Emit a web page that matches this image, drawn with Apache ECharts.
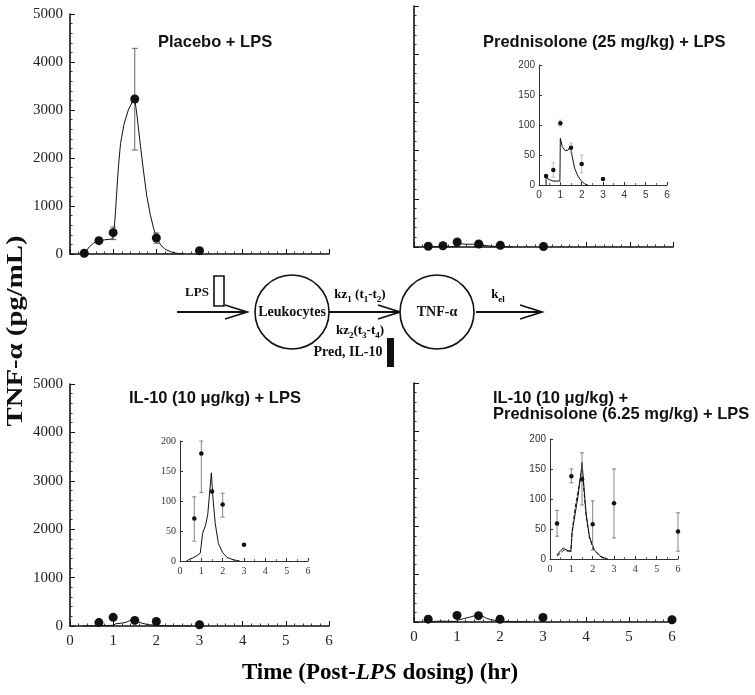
<!DOCTYPE html>
<html>
<head>
<meta charset="utf-8">
<script src="https://cdn.jsdelivr.net/npm/echarts@6/dist/echarts.min.js"></script>
<style>
html, body { margin: 0; padding: 0; background: #fff; }
#chart { width: 755px; height: 695px; }
</style>
</head>
<body>
<div id="chart"></div>
<script>
// ---- data: TNF-alpha (pg/mL) vs time after LPS (hr) ----
// placebo + LPS
const placeboT = [0.33, 0.67, 1, 1.5, 2, 3];
const placeboTNF = [15, 278, 444, 3229, 333, 70];
const placeboErr = [null, [250, 305], [300, 560], [2167, 4285], [222, 440], null];
const placeboFit = [[0.33, 10], [0.45, 150], [0.55, 230], [0.67, 275], [0.8, 295], [0.95, 310], [1.0, 330],
  [1.04, 700], [1.08, 1250], [1.12, 1800], [1.17, 2300], [1.25, 2700], [1.35, 3000], [1.45, 3180], [1.5, 3229],
  [1.55, 2900], [1.62, 2350], [1.7, 1750], [1.78, 1200], [1.86, 820], [1.93, 560], [2.0, 340], [2.1, 190],
  [2.2, 100], [2.35, 40], [2.5, 10], [2.63, 0]];

// prednisolone 25 mg/kg + LPS
const predT = [0.33, 0.67, 1, 1.5, 2, 3];
const predTNF = [15, 25, 103, 62, 35, 10];
const predErr = [null, [13, 37], [98, 108], [54, 70], [20, 50], null];
const predFit = [[0.33, 0], [0.33, 16], [0.42, 10], [0.55, 8], [0.65, 6.7], [0.8, 6.5], [0.98, 6.7], [1.0, 78],
  [1.09, 64], [1.23, 57], [1.36, 58], [1.45, 63], [1.5, 58], [1.56, 47], [1.67, 28], [1.82, 15], [1.98, 7],
  [2.14, 2], [2.29, 0]];

// IL-10 10 ug/kg + LPS
const il10T = [0.67, 1, 1.5, 2, 3];
const il10TNF = [71, 179, 116, 94, 27];
const il10Err = [[33, 107], [114, 200], null, [73, 113], null];
const il10Fit = [[0.3, 0], [0.45, 3], [0.6, 5], [0.8, 9], [0.95, 13], [1.0, 15], [1.06, 46], [1.2, 60],
  [1.3, 77], [1.38, 110], [1.47, 147], [1.54, 107], [1.65, 63], [1.8, 29], [2.0, 14], [2.2, 6], [2.5, 2], [2.8, 0]];

// IL-10 + prednisolone 6.25 mg/kg + LPS
const comboT = [0.33, 1, 1.5, 2, 3, 6];
const comboTNF = [59, 138, 133, 58, 93, 46];
const comboErr = [[38, 81], [127, 150], [90, 177], [15, 97], [35, 150], [13, 77]];
const comboFit = [[0.33, 7], [0.5, 14], [0.62, 18], [0.78, 15], [0.98, 12], [1.03, 43], [1.16, 71], [1.31, 104],
  [1.47, 149], [1.5, 161], [1.58, 126], [1.69, 76], [1.85, 37], [2.08, 15], [2.39, 4], [2.7, 0]];
const comboFit2 = [[0.33, 5], [0.5, 10], [0.65, 15], [0.8, 13], [0.98, 14], [1.05, 50], [1.2, 90], [1.35, 120],
  [1.5, 152], [1.6, 110], [1.7, 70], [1.85, 35], [2.05, 15], [2.4, 3], [2.7, 0]];

const hourTicks = [0, 6, 1];      // min, max, interval
const mainTNF = [0, 5000, 1000];
const insetTNF = [0, 200, 50];

const SERIF = '"Liberation Serif", "Times New Roman", serif';
const SANS = '"Liberation Sans", Arial, sans-serif';
const plain = v => String(v);

const pts = (t, v) => t.map((x, i) => [x, v[i]]);
const errs = (t, e) => t.map((x, i) => e[i] ? [x, e[i][0], e[i][1]] : null).filter(Boolean);

const grids = [
  { left: 70, top: 14, width: 259, height: 240 },
  { left: 414, top: 6, width: 259, height: 241 },
  { left: 70, top: 384, width: 259, height: 242 },
  { left: 414, top: 383, width: 258, height: 239 },
  // insets
  { left: 539, top: 65, width: 128, height: 120 },
  { left: 180, top: 441, width: 128, height: 120 },
  { left: 550, top: 439, width: 128, height: 120 }
];

function mainX(i, showLabel) {
  return {
    type: 'value', gridIndex: i, min: hourTicks[0], max: hourTicks[1], interval: hourTicks[2],
    axisLine: { lineStyle: { color: '#111', width: 1.6 } },
    axisTick: { inside: true, length: 5, lineStyle: { color: '#111' } },
    minorTick: { show: true, splitNumber: 5, length: 2.5, lineStyle: { color: '#333' } },
    splitLine: { show: false },
    axisLabel: { show: showLabel, fontFamily: SERIF, fontSize: 15, color: '#222', margin: 8, formatter: plain }
  };
}
function mainY(i, showLabel) {
  return {
    type: 'value', gridIndex: i, min: mainTNF[0], max: mainTNF[1], interval: mainTNF[2],
    axisLine: { show: true, lineStyle: { color: '#111', width: 1.6 } },
    axisTick: { show: true, inside: true, length: 5, lineStyle: { color: '#111' } },
    minorTick: { show: true, splitNumber: 5, length: 2.5, lineStyle: { color: '#333' } },
    splitLine: { show: false },
    axisLabel: { show: showLabel, fontFamily: SERIF, fontSize: 15, color: '#222', margin: 7, formatter: plain }
  };
}
function insetX(i, font) {
  return {
    type: 'value', gridIndex: i, min: hourTicks[0], max: hourTicks[1], interval: hourTicks[2],
    axisLine: { lineStyle: { color: '#333', width: 1 } },
    axisTick: { inside: true, length: 3, lineStyle: { color: '#333' } },
    minorTick: { show: true, splitNumber: 2, length: 2, lineStyle: { color: '#666' } },
    splitLine: { show: false },
    axisLabel: { fontFamily: font, fontSize: 10, color: '#333', margin: 5, formatter: plain }
  };
}
function insetY(i, font) {
  return {
    type: 'value', gridIndex: i, min: insetTNF[0], max: insetTNF[1], interval: insetTNF[2],
    axisLine: { show: true, lineStyle: { color: '#333', width: 1 } },
    axisTick: { show: true, inside: true, length: 3, lineStyle: { color: '#333' } },
    splitLine: { show: false },
    axisLabel: { fontFamily: font, fontSize: 10, color: '#333', margin: 4, formatter: plain }
  };
}

function errBars(idx, data, color, cap) {
  return {
    type: 'custom', xAxisIndex: idx, yAxisIndex: idx, data: data, z: 3, silent: true,
    encode: { x: 0, y: [1, 2] },
    renderItem: function (params, api) {
      const x = api.value(0);
      const top = api.coord([x, api.value(2)]);
      const bot = api.coord([x, api.value(1)]);
      const st = { stroke: color, lineWidth: 0.9 };
      return {
        type: 'group', children: [
          { type: 'line', shape: { x1: top[0], y1: top[1], x2: bot[0], y2: bot[1] }, style: st },
          { type: 'line', shape: { x1: top[0] - cap, y1: top[1], x2: top[0] + cap, y2: top[1] }, style: st },
          { type: 'line', shape: { x1: bot[0] - cap, y1: bot[1], x2: bot[0] + cap, y2: bot[1] }, style: st }
        ]
      };
    }
  };
}
function dots(idx, data, size) {
  return { type: 'scatter', xAxisIndex: idx, yAxisIndex: idx, data: data, symbolSize: size, z: 4,
    itemStyle: { color: '#111', opacity: 1 }, silent: true };
}
function fit(idx, data, dashed) {
  return { type: 'line', xAxisIndex: idx, yAxisIndex: idx, data: data, showSymbol: false, z: 2, silent: true,
    lineStyle: { color: '#111', width: 1, type: dashed ? [4, 2] : 'solid' } };
}

const series = [
  fit(0, placeboFit), errBars(0, errs(placeboT, placeboErr), '#555', 3), dots(0, pts(placeboT, placeboTNF), 9),
  fit(1, predFit), dots(1, pts(predT, predTNF), 9),
  fit(2, il10Fit), dots(2, pts(il10T, il10TNF), 9),
  fit(3, comboFit), dots(3, pts(comboT, comboTNF), 9),
  fit(4, predFit), errBars(4, errs(predT, predErr), '#bbb', 2), dots(4, pts(predT, predTNF), 4.5),
  fit(5, il10Fit), errBars(5, errs(il10T, il10Err), '#777', 2), dots(5, pts(il10T, il10TNF), 4.5),
  fit(6, comboFit), fit(6, comboFit2, true), errBars(6, errs(comboT, comboErr), '#777', 2),
  dots(6, pts(comboT, comboTNF), 4.5)
];

const titleStyle = { fontFamily: SANS, fontWeight: 'bold', fontSize: 16.5, color: '#111', lineHeight: 16 };
const title = [
  { text: 'Placebo + LPS', left: 158, top: 34 },
  { text: 'Prednisolone (25 mg/kg) + LPS', left: 483, top: 34 },
  { text: 'IL-10 (10 μg/kg) + LPS', left: 129, top: 390 },
  { text: 'IL-10 (10 μg/kg) +\nPrednisolone (6.25 mg/kg) + LPS', left: 493, top: 390 }
].map(t => Object.assign(t, { padding: 0, textStyle: titleStyle }));

// ---- model diagram between the panels ----
const dgm = { stroke: '#111', lineWidth: 1.8, fill: null };
const bold = (size) => ({ fontFamily: SERIF, fontWeight: 'bold', fontSize: size, fill: '#111' });
const richSub = {
  n: { fontFamily: SERIF, fontWeight: 'bold', fontSize: 13, lineHeight: 18, color: '#111' },
  s: { fontFamily: SERIF, fontWeight: 'bold', fontSize: 9, lineHeight: 10, verticalAlign: 'bottom', color: '#111' }
};
function txt(x, y, text, extra) {
  return { type: 'text', x: x, y: y, style: Object.assign({ text: text, align: 'center', verticalAlign: 'middle',
    textAlign: 'center', textVerticalAlign: 'middle' }, extra) };
}
function arrow(x1, x2, y) {
  return [
    { type: 'line', shape: { x1: x1, y1: y, x2: x2, y2: y }, style: dgm },
    { type: 'polyline', shape: { points: [[x2 - 22, y - 7], [x2, y], [x2 - 22, y + 7]] }, style: dgm }
  ];
}
const graphic = [].concat(
  arrow(177, 247, 312), arrow(329, 400, 312), arrow(476, 542, 312),
  [
    { type: 'circle', shape: { cx: 292, cy: 312, r: 37 }, style: { stroke: '#111', lineWidth: 1.6, fill: '#fff' } },
    { type: 'circle', shape: { cx: 437, cy: 312, r: 37 }, style: { stroke: '#111', lineWidth: 1.6, fill: '#fff' } },
    { type: 'rect', shape: { x: 214, y: 276, width: 10, height: 30 }, style: { stroke: '#111', lineWidth: 1.6, fill: '#fff' } },
    { type: 'rect', shape: { x: 387, y: 338, width: 7, height: 29 }, style: { fill: '#111' } },
    txt(197, 293, 'LPS', bold(13)),
    txt(292, 312, 'Leukocytes', bold(14)),
    txt(437, 312, 'TNF-α', bold(14)),
    txt(360, 295, '{n|kz}{s|1}{n| (t}{s|1}{n|-t}{s|2}{n|)}', { rich: richSub }),
    txt(360, 331, '{n|kz}{s|2}{n|(t}{s|3}{n|-t}{s|4}{n|)}', { rich: richSub }),
    txt(348, 352, 'Pred, IL-10', bold(14)),
    txt(498, 295, '{n|k}{s|el}', { rich: richSub }),
    // axis titles
    { type: 'text', x: 16, y: 331, rotation: Math.PI / 2, scaleX: 1.25,
      style: Object.assign({ text: 'TNF-α (pg/mL)', align: 'center', verticalAlign: 'middle',
        textAlign: 'center', textVerticalAlign: 'middle' }, bold(23)) },
    txt(380, 673, '{b|Time (Post-}{i|LPS}{b| dosing) (hr)}', { rich: {
      b: { fontFamily: SERIF, fontWeight: 'bold', fontSize: 23, color: '#111' },
      i: { fontFamily: SERIF, fontWeight: 'bold', fontStyle: 'italic', fontSize: 23, color: '#111' }
    } })
  ]
);

const chart = echarts.init(document.getElementById('chart'));
chart.setOption({
  backgroundColor: '#fff',
  animation: false,
  title: title,
  grid: grids,
  xAxis: [mainX(0, false), mainX(1, false), mainX(2, true), mainX(3, true),
    insetX(4, SANS), insetX(5, SERIF), insetX(6, SERIF)],
  yAxis: [mainY(0, true), mainY(1, false), mainY(2, true), mainY(3, false),
    insetY(4, SANS), insetY(5, SERIF), insetY(6, SANS)],
  series: series,
  graphic: graphic
});
</script>
</body>
</html>
